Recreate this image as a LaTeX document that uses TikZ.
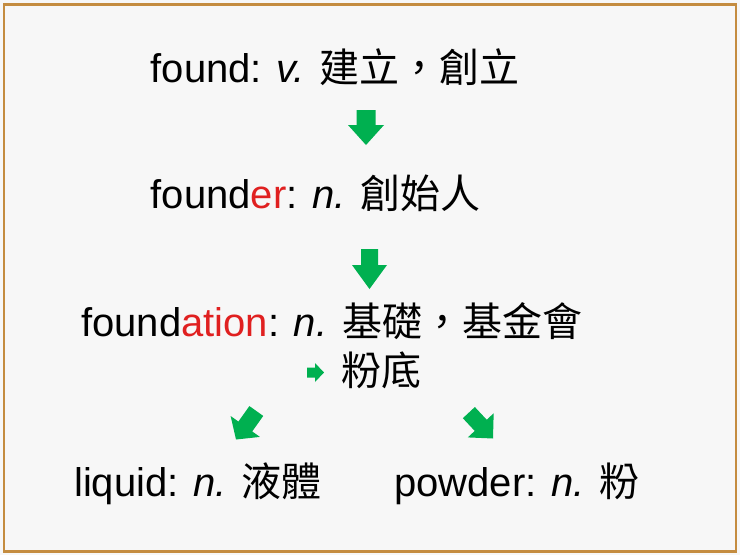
\documentclass[tikz,border=0pt]{standalone}
\usepackage{fontspec}
\setmainfont{Liberation Sans}
\newfontfamily\cjk{Noto Sans CJK TC}
\definecolor{bggray}{HTML}{F7F7F7}
\definecolor{framebrown}{HTML}{C48C40}
\definecolor{arrowgreen}{HTML}{00B050}
\definecolor{sufred}{HTML}{E02020}
% tip x, tip y, angle, length, head length, head half width, shaft half width
\newcommand\blkarrow[7]{%
  \fill[arrowgreen,shift={(#1,#2)},rotate=#3] (0,0) -- (-#5,#6) -- (-#5,#7) -- (-#4,#7) -- (-#4,-#7) -- (-#5,-#7) -- (-#5,-#6) -- cycle;}
\tikzset{
  word/.style={anchor=base west, inner sep=0pt, text=black, font=\fontsize{40}{48}\selectfont},
  framebox/.style={draw=framebrown, line width=2.7pt}
}
\begin{document}
\begin{tikzpicture}[x=1pt,y=-1pt]
\useasboundingbox (0,0) rectangle (740,555);
\fill[bggray] (0,0) rectangle (740,555);
\draw[framebox] (4,4.5) rectangle (736,551.3);

\node[word] (l1) at (150.5,82.5) {found: \textit{v.} {\cjk 建立，創立}};
\node[word] (l2) at (150.5,208.3) {found\textcolor{sufred}{er}: \textit{n.} {\cjk 創始人}};
\node[word] (l3) at (81,336.7) {found\textcolor{sufred}{ation}: \textit{n.} {\cjk 基礎，基金會}};
\node[word] (l4) at (341,385) {\cjk 粉底};
\node[word] (l5a) at (74,496.7) {liquid: \textit{n.} {\cjk 液體}};
\node[word] (l5b) at (394,496.7) {powder: \textit{n.} {\cjk 粉}};

\blkarrow{366}{145}{-90}{35}{20}{18}{9.5}
\blkarrow{369.5}{289}{-90}{40}{24}{17.5}{8.5}
\blkarrow{324}{372.5}{0}{17}{9}{9.5}{5}
\blkarrow{236}{439.5}{234.5}{35}{16}{18}{8.5}
\blkarrow{493}{438.5}{-47}{35.4}{18}{17.7}{8.2}
\end{tikzpicture}
\end{document}
